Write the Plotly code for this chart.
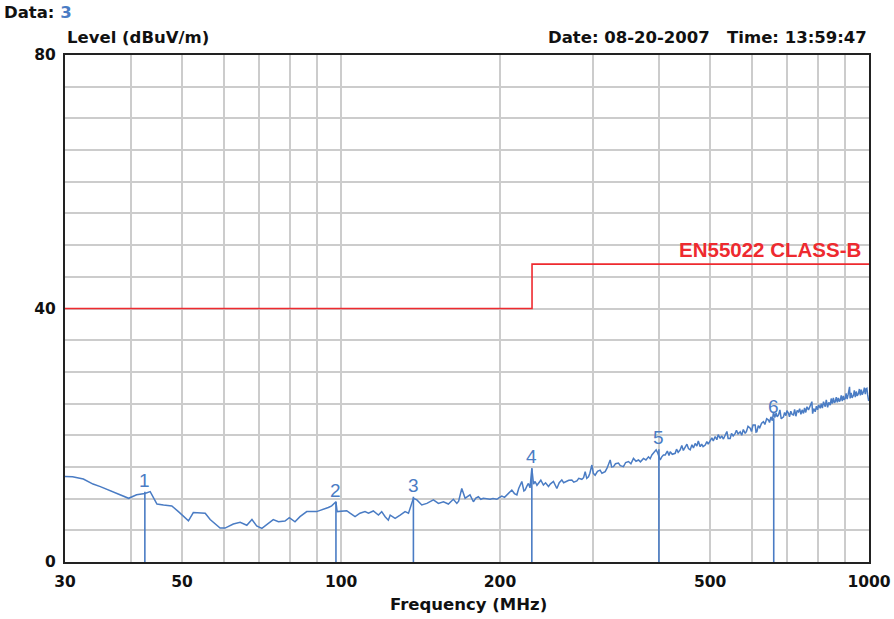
import math
import plotly.graph_objects as go

# ---------------- data ----------------
freqs_low = [30, 31, 32.5, 33.9, 35, 36.5, 38, 39.6, 41.0, 42.5, 43.5, 44.8, 46.1, 47.8, 49.2,
             51.4, 52.5, 53.7, 55.3, 56.5, 59.0, 60.3, 62.5, 64.4, 66.3, 67.8, 69.2, 70.8,
             72.8, 74.4, 76.1, 78.3, 79.8, 81.8, 83.6, 86.1, 89.9, 91.9, 94.6, 96.0, 97.8,
             98.3, 102.5, 104.0, 106.3, 108.6, 111.0, 112.7, 115.1, 117.7, 119.4, 121.2,
             122.9, 123.9, 126.6, 129.4, 132.2, 134.2, 137.1, 139.2, 142.2, 145.4, 149.6,
             152.9, 156.3, 159.7]
levels_low = [13.5, 13.45, 13.1, 12.3, 11.9, 11.25, 10.7, 10.05, 10.6, 10.8, 11.1, 9.15, 9.0,
              8.85, 7.95, 6.5, 7.8, 7.8, 7.7, 6.7, 5.35, 5.35, 6.0, 6.25, 5.8, 6.7, 5.7, 5.3,
              6.1, 6.7, 6.35, 6.45, 7.0, 6.35, 7.15, 7.95, 7.95, 8.2, 8.6, 8.85, 9.5,
              7.95, 8.1, 7.7, 7.15, 7.7, 7.95, 7.7, 8.05, 7.4, 7.95, 7.15,
              6.6, 7.4, 6.9, 7.4, 7.95, 7.7, 10.05, 9.8, 9.0, 9.25, 9.8,
              9.25, 9.5, 9.15]

freqs_mid = [163.2, 165.7, 167, 169.3, 171.8, 173.5, 175.5, 178.1, 180, 182, 184, 186, 189,
             191.6, 194, 197.3, 199, 201.6, 204, 206.1, 208, 210.6, 213, 215.3, 217, 220,
             222, 223.2, 225, 226.4, 228, 229.8, 231.5, 233.1, 235, 236.5, 239, 241.7, 244,
             247.1, 249, 252.5, 254, 256.3, 259, 261.9, 264, 267.7, 270, 273.6, 276, 279.7,
             282, 285.8, 288, 290, 292, 294.2, 296, 298.6, 300.5, 302.9, 306, 309.5, 312,
             316.4, 319, 323.4, 325.5, 328.1, 331, 335.3, 338, 342.7, 346, 350.3, 354, 358,
             362, 365.9, 369, 374, 378, 382.2, 385, 387.9, 391, 395.2, 398]
levels_mid = [9.9, 9.25, 9.6, 11.6, 10.05, 10.3, 10.6, 9.5, 10.1, 10.3, 9.9, 10.05, 9.95,
              9.9, 10.0, 9.9, 10.1, 10.4, 10.2, 10.6, 10.9, 11.35, 10.8, 10.6, 11.6, 12.7,
              11.2, 11.35, 12.0, 12.4, 11.7, 14.8, 12.3, 12.7, 12.1, 12.4, 12.9, 12.15, 12.5,
              11.9, 12.3, 12.7, 12.2, 11.6, 12.5, 12.95, 12.5, 12.7, 12.9, 12.95, 12.6, 12.8,
              13.2, 13.05, 13.3, 14.25, 13.2, 13.45, 14.0, 15.3, 14.0, 13.7, 14.3, 14.5, 14.0,
              14.25, 14.8, 16.1, 15.0, 15.05, 15.5, 15.6, 15.2, 15.05, 15.7, 15.85, 15.5, 16.35,
              15.9, 16.1, 15.8, 16.35, 16.1, 16.6, 16.3, 16.9, 17.3, 17.7, 17.2]

freqs_high = [402.2, 405, 408, 411.1, 415, 418, 420.2, 424, 429.4, 432, 435, 438.9, 442, 445,
              448.6, 452, 455, 458.5, 462, 465, 468.5, 472, 475, 478.9, 482, 485, 489.5, 493,
              496, 500.3, 504, 507, 511.2, 515, 518, 522.5, 526, 530, 534.1, 538, 541, 545.8,
              549, 553, 557.9, 561, 565, 570.2, 574, 578, 582.8, 586, 590, 595.6, 599, 603,
              608.7, 611, 613.2, 617, 621, 626, 631.1, 635, 640, 645.1, 648, 652, 656, 659.4,
              663, 667, 670, 674, 678, 682, 688.7, 692, 696, 699, 703.9, 707, 711, 715, 719.5,
              723, 727, 731, 735.4, 739, 743, 747, 751.5, 755, 759, 763, 768.1, 772, 776,
              779.5, 782, 786, 790.9, 795, 799, 803, 808.4, 812, 816, 820, 826.3, 830, 835,
              839, 844.5, 848, 852, 856, 860, 863.2, 867, 871, 875, 879, 882.3, 886, 890, 894,
              897, 901.6, 905, 909, 913, 918.6, 921, 925, 929, 934.8, 938, 942, 946, 950,
              955.2, 959, 963, 967, 971, 976.2, 980, 984, 987, 990.9, 994, 997.8, 1000]
levels_high = [16.1, 16.6, 16.9, 16.9, 17.5, 16.8, 17.4, 17.0, 17.15, 17.8, 17.3, 17.7, 18.4, 17.6,
               18.2, 18.6, 17.9, 17.7, 18.5, 18.0, 18.7, 18.3, 19.1, 18.2, 18.6, 18.2, 18.45, 19.0,
               18.6, 19.25, 19.6, 19.1, 19.8, 19.3, 20.1, 19.5, 19.9, 19.4, 20.05, 20.6, 19.5, 19.5,
               20.3, 19.9, 20.3, 20.8, 20.2, 20.55, 20.0, 20.9, 20.3, 20.6, 21.4, 21.1, 20.6, 21.6,
               21.6, 20.5, 20.55, 21.5, 21.2, 21.9, 22.15, 21.7, 22.6, 22.4, 22.0, 22.9, 22.3, 23.7,
               22.8, 23.5, 22.9, 23.2, 24.0, 22.6, 22.9, 23.6, 23.1, 23.9, 23.45, 22.9, 23.8, 23.3, 23.2,
               24.1, 23.0, 23.9, 23.7, 24.2, 23.3, 24.0, 23.45, 24.3, 23.6, 24.5, 24.0, 24.4, 24.9,
               25.3, 23.4, 24.2, 23.7, 24.6, 24.0, 24.8, 24.25, 25.0, 24.3, 25.3, 24.5, 25.6, 24.4,
               25.2, 24.75, 25.8, 25.0, 25.9, 25.1, 25.3, 26.0, 25.2, 25.9, 25.3, 25.55, 26.3, 25.4, 26.2,
               25.6, 25.8, 26.6, 25.7, 26.4, 27.65, 25.8, 26.7, 25.9, 26.35, 27.1, 26.0, 26.9, 26.2,
               26.6, 27.3, 26.3, 27.2, 26.4, 26.85, 27.5, 26.5, 27.3, 27.4, 26.4, 25.55, 25.6]

marker_ids = ["1", "2", "3", "4", "5", "6"]
marker_freqs = [42.5, 97.8, 137.1, 229.8, 400.0, 660.0]
marker_levels = [11.1, 9.5, 10.3, 14.8, 17.8, 22.7]

limit_freqs = [30, 230, 230, 1000]
limit_levels = [40, 40, 47, 47]
limit_name = "EN55022 CLASS-B"

x_tick_vals = [30, 40, 50, 60, 70, 80, 90, 100, 200, 300, 400, 500, 600, 700, 800, 900, 1000]
x_tick_text = ["30", "", "50", "", "", "", "", "100", "200", "", "", "500", "", "", "", "", "1000"]
y_tick_vals = list(range(0, 81, 5))
y_tick_text = ["0" if v == 0 else ("40" if v == 40 else ("80" if v == 80 else "")) for v in y_tick_vals]

# ---------------- figure ----------------
BLUE = "#4A7CC4"
RED = "#EE2A2F"
BOLD_FONT = "DejaVu Sans"

freqs = freqs_low + freqs_mid + freqs_high
levels = levels_low + levels_mid + levels_high

fig = go.Figure()

fig.add_trace(go.Scatter(x=limit_freqs, y=limit_levels, mode="lines",
                         line=dict(color=RED, width=1.6), hoverinfo="skip", showlegend=False))

fig.add_trace(go.Scatter(x=freqs, y=levels, mode="lines",
                         line=dict(color=BLUE, width=1.5), showlegend=False))

mx, my = [], []
for f, lv in zip(marker_freqs, marker_levels):
    mx += [f, f, None]
    my += [0, lv, None]
fig.add_trace(go.Scatter(x=mx, y=my, mode="lines", line=dict(color=BLUE, width=1.6),
                         hoverinfo="skip", showlegend=False))

annotations = []
for mid, f, lv in zip(marker_ids, marker_freqs, marker_levels):
    annotations.append(dict(x=math.log10(f), y=lv, xref="x", yref="y", text=mid, showarrow=False,
                            xanchor="center", yanchor="bottom", yshift=-1,
                            font=dict(family="Liberation Sans", size=19, color=BLUE)))

annotations.append(dict(x=math.log10(limit_freqs[-1]), y=limit_levels[-1], xref="x", yref="y",
                        text="<b>" + limit_name + "</b>",
                        showarrow=False, xanchor="right", yanchor="bottom", xshift=-6, yshift=1,
                        font=dict(family="Liberation Sans", size=20.5, color=RED)))

W0, H0 = 804.0, 507.0  # plot area size in px
annotations.append(dict(x=(2 - 65) / W0, y=(562 - 12) / H0, xref="paper", yref="paper",
                        text="<b>Data: <span style='color:%s'>3</span></b>" % BLUE,
                        showarrow=False, xanchor="left", yanchor="middle",
                        font=dict(family=BOLD_FONT, size=16.5, color="#111")))
annotations.append(dict(x=0, y=(562 - 37) / H0, xref="paper", yref="paper",
                        text="<b>Level (dBuV/m)</b>", showarrow=False, xanchor="left",
                        yanchor="middle", font=dict(family=BOLD_FONT, size=16.5, color="#111")))
annotations.append(dict(x=1.0, y=(562 - 37) / H0, xref="paper", yref="paper",
                        text="<b>Date: 08-20-2007&nbsp;&nbsp;&nbsp;Time: 13:59:47</b>",
                        showarrow=False, xanchor="right", yanchor="middle",
                        font=dict(family=BOLD_FONT, size=16.5, color="#111")))
annotations.append(dict(x=(468 - 65) / W0, y=(562 - 604) / H0, xref="paper", yref="paper",
                        text="<b>Frequency (MHz)</b>", showarrow=False, xanchor="center",
                        yanchor="middle", font=dict(family=BOLD_FONT, size=16.5, color="#111")))

fig.update_layout(
    width=894, height=619, autosize=False,
    margin=dict(l=65, r=25, t=55, b=57, autoexpand=False),
    paper_bgcolor="white", plot_bgcolor="white",
    annotations=annotations,
    showlegend=False,
)

fig.update_xaxes(type="log", range=[math.log10(30), 3.0], tickvals=x_tick_vals, ticktext=x_tick_text,
                 showgrid=True, gridcolor="#CCCCCC", gridwidth=1.5,
                 showline=True, mirror=True, linecolor="#222", linewidth=2,
                 ticks="outside", ticklen=4, tickcolor="rgba(0,0,0,0)",
                 tickfont=dict(family=BOLD_FONT, size=15.5, color="#111", weight="bold"),
                 zeroline=False)
fig.update_yaxes(range=[0, 80], tickvals=y_tick_vals, ticktext=y_tick_text,
                 showgrid=True, gridcolor="#CCCCCC", gridwidth=1.5,
                 showline=True, mirror=True, linecolor="#222", linewidth=2,
                 ticks="outside", ticklen=4, tickcolor="rgba(0,0,0,0)",
                 tickfont=dict(family=BOLD_FONT, size=15.5, color="#111", weight="bold"),
                 zeroline=False)

# remove the default 8px page margin so the figure fills the window exactly
fig.write_html("out.html", config={"displayModeBar": False},
               post_script="document.body.style.margin='0';document.body.style.overflow='hidden';")
